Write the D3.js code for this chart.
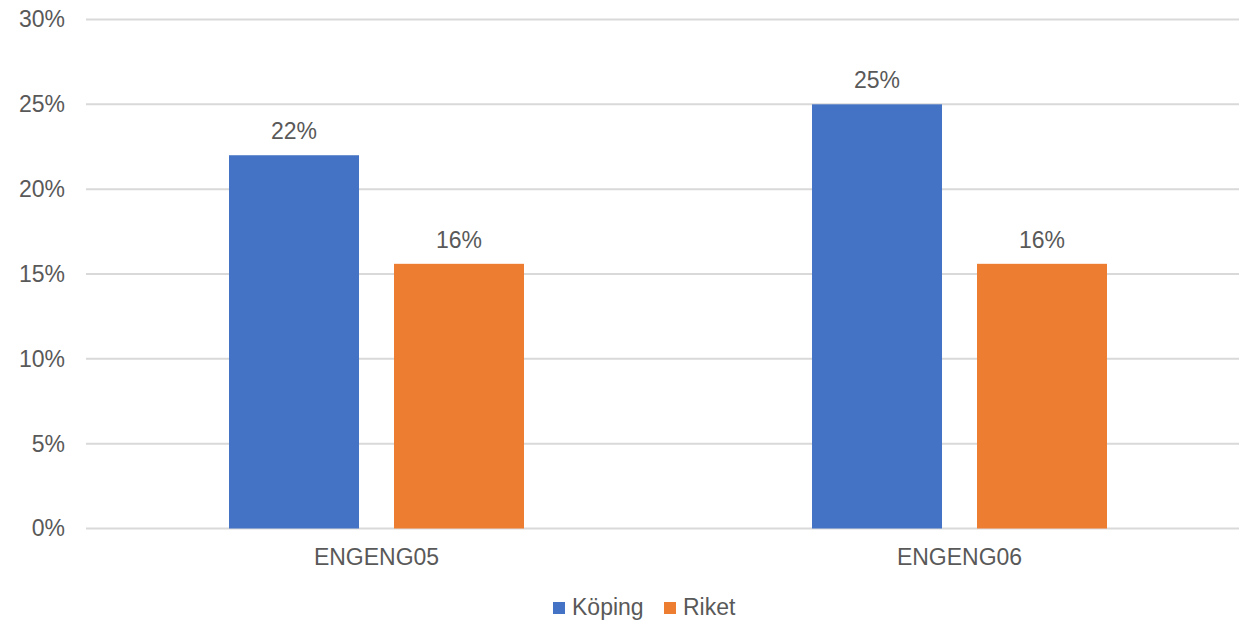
<!DOCTYPE html>
<html>
<head>
<meta charset="utf-8">
<script src="https://cdn.jsdelivr.net/npm/d3@7"></script>
<style>
  html, body { margin: 0; padding: 0; background: #fff; }
  svg { display: block; }
  text { font-family: "Liberation Sans", Arial, sans-serif; fill: #595959; }
</style>
</head>
<body>
<svg id="chart" width="1239" height="625"></svg>
<script>
const categories = ["ENGENG05", "ENGENG06"];
const seriesNames = ["Köping", "Riket"];
const koping = [22, 25];
const riket = [15.6, 15.6];
const labelsKoping = ["22%", "25%"];
const labelsRiket = ["16%", "16%"];
const yTicks = [0, 5, 10, 15, 20, 25, 30];
const colors = ["#4472C4", "#ED7D31"];

const svg = d3.select("#chart");
const W = 1239, H = 625;
const plotLeft = 85, plotRight = 1251, plotTop = 19.5, plotBottom = 528.5;

const y = d3.scaleLinear().domain([0, 30]).range([plotBottom, plotTop]);
const x0 = d3.scaleBand().domain(categories).range([plotLeft, plotRight]).paddingInner(0).paddingOuter(0);
const groupW = 295;
const bw0 = x0.bandwidth();
const x1 = d3.scaleBand().domain(seriesNames)
  .range([(bw0 - groupW) / 2, (bw0 + groupW) / 2])
  .paddingInner(0.2121).paddingOuter(0);

// gridlines
svg.append("g").selectAll("line").data(yTicks).join("line")
  .attr("x1", 86).attr("x2", W)
  .attr("y1", d => y(d)).attr("y2", d => y(d))
  .attr("stroke", "#d9d9d9").attr("stroke-width", 2);

// y axis labels
const yAxis = d3.axisLeft(y).tickValues(yTicks).tickFormat(d => d + "%").tickSize(0).tickPadding(0);
const yg = svg.append("g").attr("transform", "translate(65,0)").call(yAxis);
yg.select(".domain").remove();
yg.selectAll("text").attr("font-size", 23).attr("fill", "#595959")
  .style("font-family", "'Liberation Sans', Arial, sans-serif");

// data table
const data = categories.map((c, i) => ({
  cat: c,
  vals: [
    { s: seriesNames[0], v: koping[i], label: labelsKoping[i] },
    { s: seriesNames[1], v: riket[i], label: labelsRiket[i] }
  ]
}));

const groups = svg.append("g").selectAll("g").data(data).join("g")
  .attr("transform", d => `translate(${x0(d.cat)},0)`);

groups.selectAll("rect").data(d => d.vals).join("rect")
  .attr("x", d => x1(d.s))
  .attr("width", x1.bandwidth())
  .attr("y", d => y(d.v))
  .attr("height", d => y(0) - y(d.v))
  .attr("fill", (d, i) => colors[i]);

groups.selectAll("text.lbl").data(d => d.vals).join("text")
  .attr("class", "lbl")
  .attr("x", d => x1(d.s) + x1.bandwidth() / 2)
  .attr("y", d => y(d.v) - 16)
  .attr("text-anchor", "middle")
  .attr("font-size", 23)
  .text(d => d.label);

// x axis labels
const xAxis = d3.axisBottom(x0).tickSize(0).tickPadding(0);
const xg = svg.append("g").attr("transform", "translate(0,548)").call(xAxis);
xg.select(".domain").remove();
xg.selectAll("text").attr("font-size", 23).attr("fill", "#595959")
  .attr("dy", "0.76em")
  .style("font-family", "'Liberation Sans', Arial, sans-serif");

// legend
const legendX = [553, 664];
const leg = svg.append("g").selectAll("g").data(seriesNames).join("g")
  .attr("transform", (d, i) => `translate(${legendX[i]},602)`);
leg.append("rect").attr("width", 12).attr("height", 12).attr("fill", (d, i) => colors[i]);
leg.append("text").attr("x", 19).attr("y", 13).attr("font-size", 23).text(d => d);
</script>
</body>
</html>
